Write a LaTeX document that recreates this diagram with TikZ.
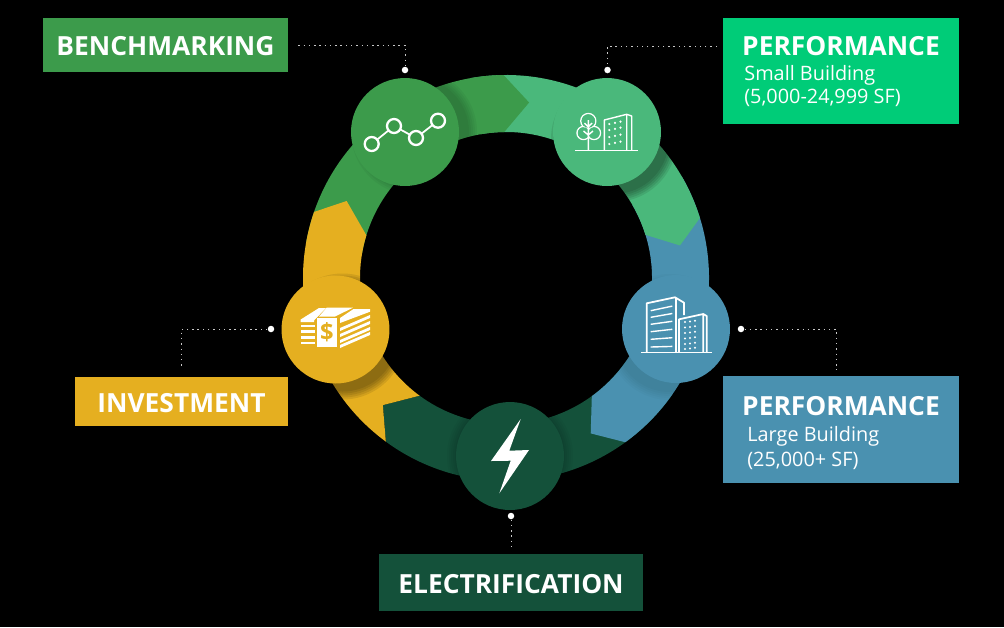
\documentclass[tikz,border=0pt]{standalone}
\usepackage{fontspec}
\setmainfont{Open Sans}
\usetikzlibrary{arrows.meta,positioning,calc}
\definecolor{benchgreen}{HTML}{3C9B4B}
\definecolor{smallgreen}{HTML}{4AB87B}
\definecolor{smallbox}{HTML}{00CC78}
\definecolor{largeblue}{HTML}{4A91B0}
\definecolor{elecdark}{HTML}{14513A}
\definecolor{investyellow}{HTML}{E5AF20}
\definecolor{leadergray}{HTML}{C8C8C8}
\tikzset{
  hub/.style={circle,minimum size=2.16cm,inner sep=0pt},
  titlebox/.style={inner sep=0pt,text=white,text height=12.4pt,text depth=0pt,font=\fontsize{15}{17}\selectfont\bfseries},
  subtext/.style={anchor=west,inner sep=0pt,text=white,font=\fontsize{11.3}{13}\selectfont},
  leader/.style={leadergray,line width=0.55pt,dash pattern=on 0.8pt off 2.2pt},
  enddot/.style={circle,fill=white,minimum size=0.13cm,inner sep=0pt},
  icon/.style={white,line width=0.8pt,line join=round},
}
% one piece of the ring: start angle, end angle, tip angle (clockwise on the page)
\newcommand{\ringpiece}[4]{%
  \fill[#1] ($(506,-278)+(-#2:203)$) arc (-#2:-#3:203)
    -- ($(506,-278)+(-#4:177)$) -- ($(506,-278)+(-#3:146)$)
    arc (-#3:-#2:146) -- cycle;}
\newcommand{\hubshadow}[3]{%
  \foreach \r in {55,57,...,63}
    \fill[black,opacity=#3] (#1)++(#2) circle (\r);}
\begin{document}
\begin{tikzpicture}[x=0.02cm,y=0.02cm]
  \fill[black] (0,0) rectangle (1004,-627);
  \useasboundingbox (0,0) rectangle (1004,-627);
  % ring
  \ringpiece{elecdark}{35}{126.3}{134.1}
  \ringpiece{largeblue}{-30}{54}{61.4}
  \ringpiece{smallgreen}{-100}{-17.2}{-10.6}
  \ringpiece{benchgreen}{190}{269.3}{277.5}
  \fill[investyellow] ($(506,-278)+(-126.3:203)$) -- ($(506,-278)+(-134.1:177)$)
    -- ($(506,-278)+(-126.3:146)$) arc (-126.3:-197:146)
    -- ($(506,-278)+(-205.8:177)$) -- ($(506,-278)+(-199:203)$)
    arc (-199:-126.3:203) -- cycle;
  % hubs
  \coordinate (benchc) at (405,-132);
  \coordinate (smallc) at (607,-132);
  \coordinate (largec) at (676,-329);
  \coordinate (elecc) at (510,-456);
  \coordinate (investc) at (335.5,-329.5);
  \hubshadow{benchc}{9,0}{0.04}
  \hubshadow{smallc}{7,-7}{0.09}
  \hubshadow{largec}{-6,-8}{0.02}
  \hubshadow{elecc}{0,0}{0.03}
  \hubshadow{investc}{7,-7}{0.09}
  \node[hub,fill=benchgreen] (benchhub) at (benchc) {};
  \node[hub,fill=smallgreen] (smallhub) at (smallc) {};
  \node[hub,fill=largeblue] (largehub) at (largec) {};
  \node[hub,fill=elecdark] (elechub) at (elecc) {};
  \node[hub,fill=investyellow] (investhub) at (investc) {};
  % boxes
  \node[titlebox,fill=benchgreen,minimum width=4.9cm,minimum height=1.08cm] (benchbox) at (165.5,-45) {BENCHMARKING};
  \node[fill=smallbox,minimum width=4.72cm,minimum height=2.12cm,inner sep=0pt] (smallbox) at (841,-71) {};
  \node[fill=largeblue,minimum width=4.72cm,minimum height=2.14cm,inner sep=0pt] (largebox) at (841,-429.5) {};
  \node[titlebox,fill=investyellow,minimum width=4.26cm,minimum height=0.98cm] (investbox) at (181.5,-401.5) {INVESTMENT};
  \node[titlebox,fill=elecdark,minimum width=5.28cm,minimum height=1.14cm] (elecbox) at (511,-582.5) {ELECTRIFICATION};
  \node[titlebox] (smalltitle) at (841,-44.5) {PERFORMANCE};
  \node[subtext] (smallsub) at (744,-75) {Small Building};
  \node[subtext] (smallsize) at (744,-98) {(5,000-24,999 SF)};
  \node[titlebox] (largetitle) at (841,-404.5) {PERFORMANCE};
  \node[subtext] (largesub) at (747,-436) {Large Building};
  \node[subtext] (largesize) at (747,-461) {(25,000+ SF)};
  % leaders
  \node[enddot] (benchdot) at (405,-70) {};
  \node[enddot] (smalldot) at (607.5,-70) {};
  \node[enddot] (largedot) at (741,-329) {};
  \node[enddot] (investdot) at (271,-329) {};
  \node[enddot] (elecdot) at (511,-516) {};
  \coordinate (smallend) at (723,-46);
  \coordinate (largeend) at (836,-376);
  \draw[leader,shorten <=0.2cm] (benchbox.east) -| (benchdot);
  \draw[leader,shorten <=0.12cm] (smallend) -| (smalldot);
  \draw[leader,shorten >=0.12cm] (largedot) -| (largeend);
  \draw[leader,shorten >=0.16cm] (investdot) -| (investbox.north);
  \draw[leader,shorten >=0.12cm] (elecdot) -- (elecbox.north);
  % chart icon
  \draw[icon,line width=1pt] (371.7,-144)--(394,-126)--(416,-138)--(438,-120.7);
  \foreach \x/\y in {371.7/144,394/126,416/138,438/120.7}
    \draw[icon,line width=1.3pt,fill=benchgreen] (\x,-\y) circle (7);
  % tree and block icon
  \draw[icon] (575,-150.5)--(638,-150.5);
  \draw[icon] (588.3,-121) circle (7.5) (583.5,-133) circle (6.5) (594,-133) circle (6.5);
  \fill[smallgreen] (588.3,-121) circle (6.7) (583.5,-133) circle (5.7) (594,-133) circle (5.7);
  \draw[icon] (588.3,-120)--(588.3,-150.5) (588.3,-127)--(584.5,-123) (588.3,-127)--(592,-123)
    (588.3,-135)--(583.5,-131) (588.3,-135)--(593,-131);
  \draw[icon] (604.3,-150.5)--(604.3,-120)--(626.7,-114.3)--(631.7,-116)--(631.7,-150.5) (626.7,-114.3)--(626.7,-150.5);
  \foreach \x/\d in {609.3/0,615/1.2,620.5/2.4}
    \foreach \y in {124,130,137,144}
      \fill[white] (\x,-\y+\d) circle (1.2);
  % towers icon
  \draw[icon] (641,-352.7)--(711.7,-352.7);
  \draw[icon,line width=1pt] (646.7,-352.7)--(646.7,-303.3)--(675,-297.3)--(684,-302.7)--(684,-315);
  \draw[icon,line width=1pt] (675.7,-297.5)--(675.7,-352.7);
  \foreach \y/\d in {310.7/4.6,317.3/3.8,324.3/3,331.7/2.4,339.3/1.6,347/0.6}
    \draw[icon] (650.7,-\y)--(672.3,-\y+\d);
  \draw[icon,line width=1pt] (679,-352.7)--(679,-319.3)--(703.3,-314)--(706.7,-316)--(706.7,-352.7) (703.3,-314)--(703.3,-352.7);
  \foreach \x/\d in {685/0,690/0.6,695/1.2}
    \foreach \y in {322,327.5,333,338.5,344,349}
      \fill[white] (\x,-\y+\d) circle (1.1);
  % bolt icon
  \fill[white] (520.7,-419)--(509.3,-450.7)--(529,-450)--(499.3,-493.3)--(510.7,-460.7)--(491,-461)--cycle;
  % money icon
  \fill[white] (300.7,-319.5)--(319,-308)--(326,-308)--(314,-320.5)--(314,-322)--(300.7,-322)--cycle;
  \fill[white] (326.7,-307.7)--(353,-307.7)--(335,-316.5)--(319,-316.5)--cycle;
  \fill[white] (317.3,-318)--(336.7,-318)--(336.7,-346.7)--(317.3,-346.7)--cycle;
  \foreach \y in {324.5,330.2,335.8,341.5}
    \fill[white] (300.7,-\y) rectangle (315,-\y-2.9);
  \fill[white] (340,-318)--(353.5,-309)--(370,-309)--(370,-311.7)--(340,-323)--cycle;
  \foreach \y in {328,334,340,345}
    \fill[white] (340,-\y)--(370,-\y+13)--(370,-\y+10)--(340,-\y-3)--cycle;
  \node[inner sep=0pt,text=investyellow,font=\fontsize{13.5}{13.5}\selectfont\bfseries] (moneysign) at (327,-332) {\$};
\end{tikzpicture}
\end{document}
